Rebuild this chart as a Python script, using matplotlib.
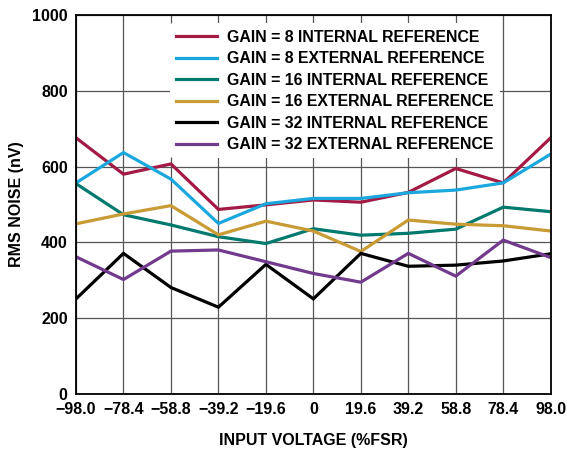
import matplotlib.pyplot as plt

plt.rcParams['font.family'] = ['Liberation Sans', 'DejaVu Sans']
plt.rcParams['font.weight'] = 'bold'

# input voltage (%FSR)
x_vals = [-98.0, -78.4, -58.8, -39.2, -19.6, 0, 19.6, 39.2, 58.8, 78.4, 98.0]
x_labels = ['\u221298.0', '\u221278.4', '\u221258.8', '\u221239.2', '\u221219.6', '0',
            '19.6', '39.2', '58.8', '78.4', '98.0']

# rms noise (nV)
gain8_int = [676, 580, 607, 487, 499, 512, 506, 532, 595, 557, 676]
gain8_ext = [557, 637, 567, 450, 502, 516, 516, 531, 538, 557, 633]
gain16_int = [555, 473, 446, 415, 397, 436, 419, 424, 435, 493, 481]
gain16_ext = [449, 475, 497, 420, 456, 430, 376, 459, 448, 444, 430]
gain32_int = [251, 371, 281, 229, 342, 251, 371, 337, 340, 351, 370]
gain32_ext = [362, 302, 377, 380, 349, 318, 295, 371, 311, 406, 360]

series = [
    ('GAIN = 8 INTERNAL REFERENCE', gain8_int, '#A31A45'),
    ('GAIN = 8 EXTERNAL REFERENCE', gain8_ext, '#1AA7DE'),
    ('GAIN = 16 INTERNAL REFERENCE', gain16_int, '#00796F'),
    ('GAIN = 16 EXTERNAL REFERENCE', gain16_ext, '#C89B35'),
    ('GAIN = 32 INTERNAL REFERENCE', gain32_int, '#000000'),
    ('GAIN = 32 EXTERNAL REFERENCE', gain32_ext, '#713A8C'),
]

fig = plt.figure(figsize=(5.86, 4.49), dpi=100)
ax = fig.add_axes([0.1297, 0.1225, 0.8101, 0.8441])

for label, vals, color in series:
    ax.plot(x_vals, vals, color=color, lw=2.3, label=label, solid_joinstyle='miter')

ax.set_xlim(-98, 98)
ax.set_ylim(0, 1000)
ax.set_xticks(x_vals)
ax.set_xticklabels(x_labels)
ax.set_yticks([0, 200, 400, 600, 800, 1000])
ax.tick_params(length=0, labelsize=11.5, pad=6)
for t in ax.get_xticklabels() + ax.get_yticklabels():
    t.set_fontweight('bold')

ax.grid(True, color='#555555', lw=0.9)
ax.set_axisbelow(True)
for sp in ax.spines.values():
    sp.set_linewidth(1.3)
    sp.set_color('black')

ax.set_xlabel('INPUT VOLTAGE (%FSR)', fontsize=11.5, fontweight='bold', labelpad=11)
ax.set_ylabel('RMS NOISE (nV)', fontsize=11.5, fontweight='bold', labelpad=6)

leg = ax.legend(loc='upper left', bbox_to_anchor=(0.198, 0.978), frameon=True,
                fontsize=11.4, handlelength=2.55, handletextpad=0.65,
                labelspacing=0.41, borderpad=0.4, borderaxespad=0)
leg.get_frame().set_facecolor('white')
leg.get_frame().set_edgecolor('none')
leg.get_frame().set_alpha(1)
for t in leg.get_texts():
    t.set_fontweight('bold')

fig.savefig('out.png', dpi=100)
